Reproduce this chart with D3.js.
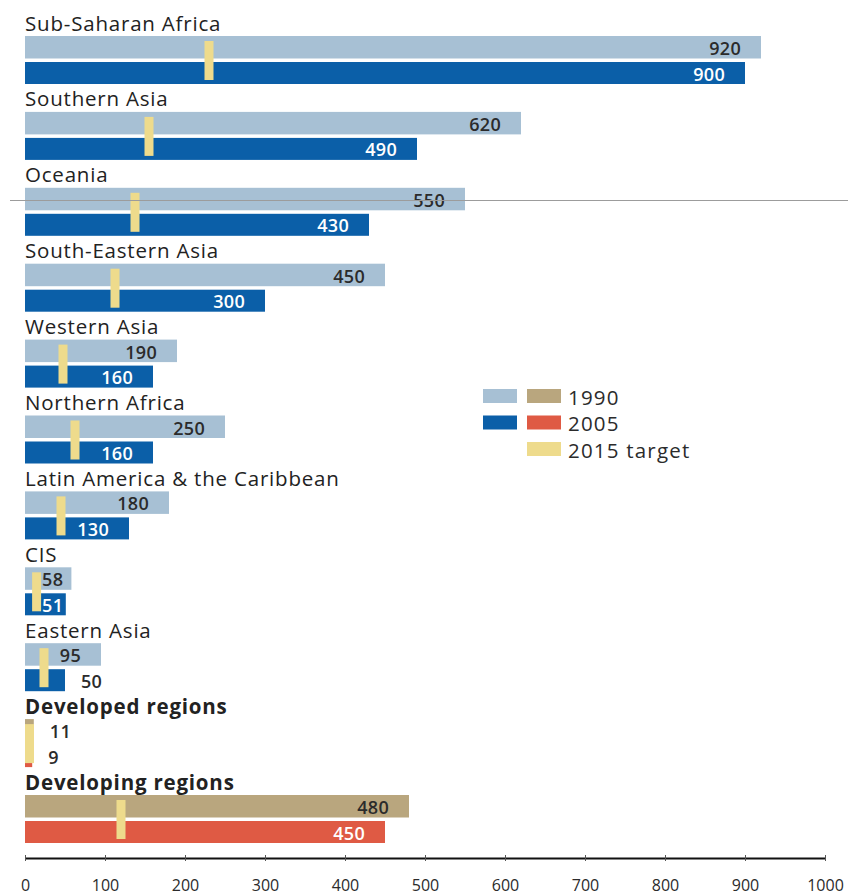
<!DOCTYPE html>
<html>
<head>
<meta charset="utf-8">
<script src="https://cdn.jsdelivr.net/npm/d3@7"></script>
<style>
  html, body { margin: 0; padding: 0; background: #fff; }
  svg { display: block; }
</style>
</head>
<body>
<svg id="chart" width="848" height="895"></svg>
<script>
// Maternal deaths per 100,000 live births, by region
const regions = [
  "Sub-Saharan Africa",
  "Southern Asia",
  "Oceania",
  "South-Eastern Asia",
  "Western Asia",
  "Northern Africa",
  "Latin America & the Caribbean",
  "CIS",
  "Eastern Asia",
  "Developed regions",
  "Developing regions"
];
const values1990 = [920, 620, 550, 450, 190, 250, 180, 58, 95, 11, 480];
const values2005 = [900, 490, 430, 300, 160, 160, 130, 51, 50, 9, 450];
const targets2015 = [230, 155, 137.5, 112.5, 47.5, 62.5, 45, 14.5, 23.75, 2.75, 120];
const aggregateRegions = ["Developed regions", "Developing regions"];
const axisTicks = [0, 100, 200, 300, 400, 500, 600, 700, 800, 900, 1000];
const legendLabels = ["1990", "2005", "2015 target"];

const colors = {
  regional: { y1990: "#a7c0d4", y2005: "#0b5fa8" },
  aggregate: { y1990: "#b9a67e", y2005: "#df5a44" },
  target: "#eedb8c",
  text: "#2b2b2b"
};

const svg = d3.select("#chart");
const FONT = "'Open Sans', 'DejaVu Sans', sans-serif";

const x = d3.scaleLinear().domain([0, 1000]).range([25, 825]);
const y = d3.scaleBand().domain(regions).range([10, 844.9]).padding(0);

const rows = regions.map((r, i) => ({
  region: r,
  v1990: values1990[i],
  v2005: values2005[i],
  target: targets2015[i],
  aggregate: aggregateRegions.includes(r)
}));

const groups = svg.append("g").selectAll("g.row")
  .data(rows)
  .join("g")
  .attr("class", "row")
  .attr("transform", d => `translate(0,${y(d.region)})`);

// region names
groups.append("text")
  .attr("x", x(0))
  .attr("y", 20.5)
  .attr("font-family", FONT)
  .attr("font-size", 20.5)
  .attr("letter-spacing", 0.8)
  .attr("font-weight", d => d.aggregate ? 700 : 500)
  .attr("fill", "#222")
  .text(d => d.region);

const BAR1_Y = 26, BAR1_H = 22.5, BAR2_Y = 52, BAR2_H = 22;

groups.append("rect")
  .attr("x", x(0))
  .attr("y", BAR1_Y)
  .attr("width", d => x(d.v1990) - x(0))
  .attr("height", BAR1_H)
  .attr("fill", d => d.aggregate ? colors.aggregate.y1990 : colors.regional.y1990);

groups.append("rect")
  .attr("x", x(0))
  .attr("y", BAR2_Y)
  .attr("width", d => x(d.v2005) - x(0))
  .attr("height", BAR2_H)
  .attr("fill", d => d.aggregate ? colors.aggregate.y2005 : colors.regional.y2005);

// 2015 target marker
const MARK_W = 9;
groups.append("rect")
  .attr("x", d => Math.max(x(0), x(d.target) - MARK_W / 2))
  .attr("y", 31)
  .attr("width", MARK_W)
  .attr("height", 39)
  .attr("fill", colors.target);

// value labels: inside the bar (clear of the target marker) when they fit, else just outside
function valueLabel(g, d, value, baseY, inside) {
  const barEnd = x(value);
  const t = g.append("text")
    .attr("font-family", FONT)
    .attr("font-size", 18)
    .attr("font-weight", 600)
    .attr("letter-spacing", 0.3)
    .attr("y", baseY)
    .text(value);
  const w = t.node().getComputedTextLength();
  const markRight = x(d.target) + MARK_W / 2;
  const right = Math.max(barEnd - 20, markRight + 1 + w);
  if (right <= barEnd - 1) {
    t.attr("x", right).attr("text-anchor", "end").attr("fill", inside);
  } else {
    t.attr("x", barEnd + 16).attr("text-anchor", "start").attr("fill", colors.text);
  }
}

groups.each(function(d) {
  const g = d3.select(this);
  valueLabel(g, d, d.v1990, BAR1_Y + BAR1_H - 3.5, colors.text);
  valueLabel(g, d, d.v2005, BAR2_Y + BAR2_H - 3.5, "#ffffff");
});

// thin rule across the page
svg.append("line")
  .attr("x1", 10).attr("x2", 848)
  .attr("y1", 200.5).attr("y2", 200.5)
  .attr("stroke", "#9c9c9c")
  .attr("stroke-width", 1);

// legend
const legend = svg.append("g").attr("transform", "translate(483,389)");
const legendRows = [
  { label: legendLabels[0], swatches: [colors.regional.y1990, colors.aggregate.y1990] },
  { label: legendLabels[1], swatches: [colors.regional.y2005, colors.aggregate.y2005] },
  { label: legendLabels[2], swatches: [null, colors.target] }
];
const lg = legend.selectAll("g")
  .data(legendRows)
  .join("g")
  .attr("transform", (d, i) => `translate(0,${i * 26.5})`);
lg.each(function(d) {
  const g = d3.select(this);
  d.swatches.forEach((c, j) => {
    if (!c) return;
    g.append("rect")
      .attr("x", j * 44)
      .attr("y", 0)
      .attr("width", 34)
      .attr("height", 14)
      .attr("fill", c);
  });
  g.append("text")
    .attr("x", 85)
    .attr("y", 15.5)
    .attr("font-family", FONT)
    .attr("font-size", 20.5)
    .attr("font-weight", 500)
    .attr("letter-spacing", 1.2)
    .attr("fill", colors.text)
    .text(d.label);
});

// x axis
const axis = svg.append("g")
  .attr("transform", "translate(0,858)")
  .call(d3.axisBottom(x).tickValues(axisTicks).tickSizeInner(3).tickSizeOuter(0).tickFormat(d3.format("d")));
axis.select(".domain").attr("stroke", "#111").attr("stroke-width", 2);
axis.selectAll(".tick line").attr("y1", -3).attr("y2", 3).attr("stroke", "#555").attr("stroke-width", 1);
axis.selectAll(".tick text")
  .attr("y", 33)
  .attr("dy", 0)
  .attr("font-family", FONT)
  .attr("font-size", 16)
  .attr("fill", colors.text);
</script>
</body>
</html>
